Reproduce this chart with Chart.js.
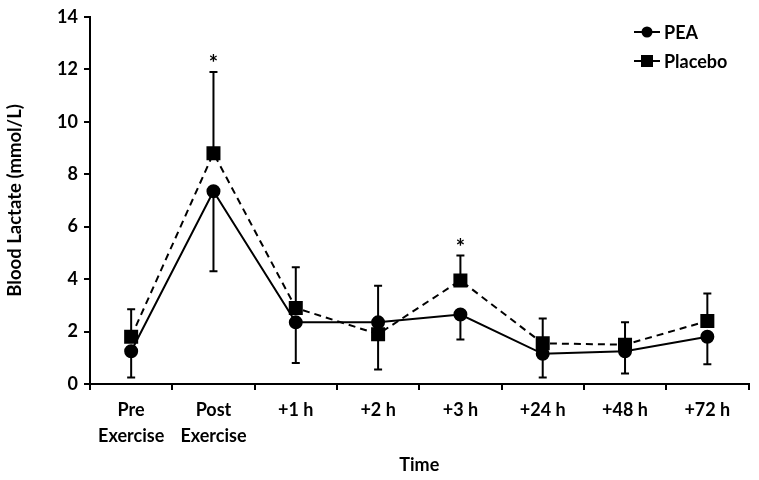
<!DOCTYPE html>
<html>
<head>
<meta charset="utf-8">
<script src="https://cdn.jsdelivr.net/npm/chart.js@4"></script>
<style>
  html, body { margin: 0; padding: 0; background: #fff; }
  #wrap { width: 759px; height: 480px; }
</style>
</head>
<body>
<div id="wrap"><canvas id="lactateChart"></canvas></div>
<script>
// values
const timeLabels = [['Pre', 'Exercise'], ['Post', 'Exercise'], '+1 h', '+2 h', '+3 h', '+24 h', '+48 h', '+72 h'];
const peaMean = [1.25, 7.35, 2.35, 2.35, 2.65, 1.15, 1.25, 1.8];
const peaErr = [1.0, 3.05, 1.55, 1.8, 0.95, 0.9, 0.85, 1.05];      // drawn downward
const placeboMean = [1.8, 8.8, 2.9, 1.9, 3.95, 1.55, 1.5, 2.4];
const placeboErr = [1.05, 3.1, 1.55, 1.85, 0.95, 0.95, 0.85, 1.05]; // drawn upward
const starAt = [1, 4]; // significant time points
const yTicks = [0, 2, 4, 6, 8, 10, 12, 14];

const FONT = 'Lato, "Open Sans", sans-serif';

// one-sided error bars: placebo up, PEA down
const errorBars = {
  id: 'errorBars',
  afterDatasetsDraw(chart) {
    const { ctx, scales: { x, y } } = chart;
    ctx.save();
    ctx.strokeStyle = '#000';
    ctx.lineWidth = 2;
    const cap = 4;
    const bar = (i, from, to) => {
      const px = x.getPixelForValue(i);
      const a = y.getPixelForValue(from), b = y.getPixelForValue(to);
      ctx.beginPath();
      ctx.moveTo(px, a); ctx.lineTo(px, b);
      ctx.moveTo(px - cap, b); ctx.lineTo(px + cap, b);
      ctx.stroke();
    };
    placeboMean.forEach((m, i) => bar(i, m, m + placeboErr[i]));
    peaMean.forEach((m, i) => bar(i, m, m - peaErr[i]));

    ctx.fillStyle = '#000';
    ctx.font = 'bold 22px ' + FONT;
    ctx.textAlign = 'center';
    ctx.textBaseline = 'bottom';
    starAt.forEach(i => {
      const top = placeboMean[i] + placeboErr[i];
      ctx.fillText('*', x.getPixelForValue(i), y.getPixelForValue(top) + 3);
    });
    ctx.restore();
  }
};

// legend: short line with marker, top right
const sideLegend = {
  id: 'sideLegend',
  afterDraw(chart) {
    const { ctx } = chart;
    ctx.save();
    ctx.font = 'bold 18px ' + FONT;
    ctx.textBaseline = 'middle';
    ctx.fillStyle = '#000';
    ctx.strokeStyle = '#000';
    ctx.lineWidth = 2;
    const x0 = 634, x1 = 660;
    const rows = [{ text: 'PEA', y: 32, shape: 'circle' }, { text: 'Placebo', y: 61, shape: 'square' }];
    rows.forEach(r => {
      ctx.beginPath();
      ctx.moveTo(x0, r.y); ctx.lineTo(x1, r.y);
      ctx.stroke();
      const cx = (x0 + x1) / 2;
      ctx.beginPath();
      if (r.shape === 'circle') ctx.arc(cx, r.y, 5.5, 0, Math.PI * 2);
      else ctx.rect(cx - 6, r.y - 6, 12, 12);
      ctx.fill();
      ctx.fillText(r.text, x1 + 4, r.y + 1);
    });
    ctx.restore();
  }
};

new Chart(document.getElementById('lactateChart'), {
  type: 'line',
  data: {
    labels: timeLabels,
    datasets: [
      {
        label: 'PEA',
        data: peaMean,
        borderColor: '#000',
        backgroundColor: '#000',
        borderWidth: 2,
        pointStyle: 'circle',
        pointRadius: 6,
        pointHoverRadius: 6,
        tension: 0
      },
      {
        label: 'Placebo',
        data: placeboMean,
        borderColor: '#000',
        backgroundColor: '#000',
        borderWidth: 2,
        borderDash: [7, 5],
        pointStyle: 'rect',
        pointRadius: 8.5,
        pointHoverRadius: 8.5,
        tension: 0
      }
    ]
  },
  plugins: [errorBars, sideLegend],
  options: {
    responsive: true,
    maintainAspectRatio: false,
    animation: false,
    layout: { padding: { top: 6, right: 9, left: 0, bottom: 0 } },
    plugins: {
      legend: { display: false },
      tooltip: { enabled: false }
    },
    scales: {
      x: {
        offset: true,
        border: { color: '#000', width: 2 },
        grid: { offset: true, drawOnChartArea: false, color: '#000', lineWidth: 2, tickLength: 6 },
        ticks: { color: '#000', font: { family: FONT, size: 18, weight: 'bold', lineHeight: 1.45 }, padding: 7, maxRotation: 0 },
        title: { display: true, text: 'Time', color: '#000', font: { family: FONT, size: 18, weight: 'bold' }, padding: { top: 4 } },
        afterFit(scale) { scale.height = 96; }
      },
      y: {
        min: 0,
        max: 14,
        afterBuildTicks(scale) { scale.ticks = yTicks.map(v => ({ value: v })); },
        border: { color: '#000', width: 2 },
        grid: { drawOnChartArea: false, color: '#000', lineWidth: 2, tickLength: 6 },
        ticks: { color: '#000', font: { family: FONT, size: 18, weight: 'bold' }, padding: 6 },
        title: { display: true, text: 'Blood Lactate (mmol/L)', color: '#000', font: { family: FONT, size: 18.5, weight: 'bold' }, padding: { bottom: 8 } },
        afterFit(scale) { scale.width = 90; }
      }
    }
  }
});
</script>
</body>
</html>
